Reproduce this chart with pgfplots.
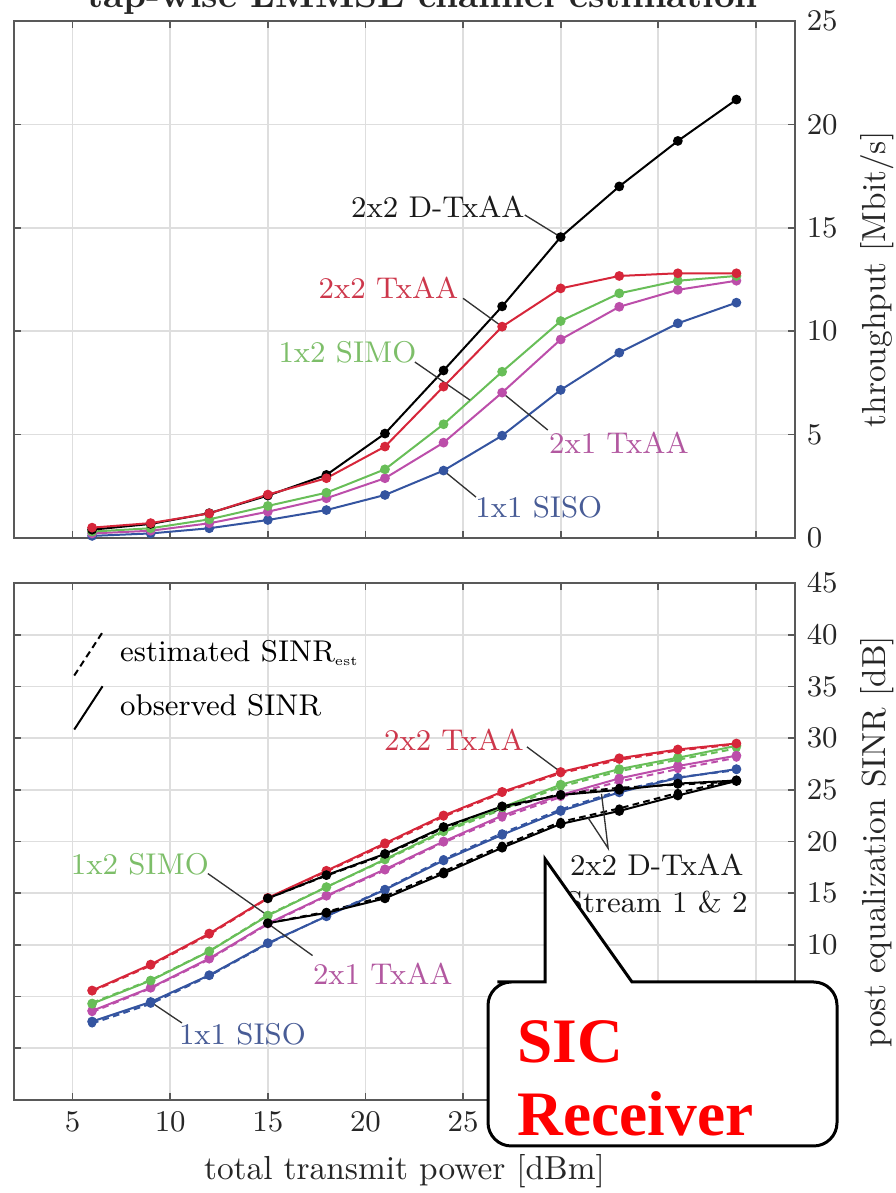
\documentclass[border=0pt]{standalone}
\usepackage{fontspec}
\usepackage{pgfplots}
\pgfplotsset{compat=1.18}
\newfontfamily\timesfont{Liberation Serif}
\definecolor{cred}{RGB}{214,38,58}
\definecolor{cgrn}{RGB}{104,190,88}
\definecolor{cmag}{RGB}{188,78,170}
\definecolor{cblu}{RGB}{52,84,160}
\definecolor{lred}{RGB}{205,55,75}
\definecolor{lgrn}{RGB}{125,190,105}
\definecolor{lmag}{RGB}{178,88,160}
\definecolor{lblu}{RGB}{72,92,150}
\newcommand{\annfont}{\fontsize{9}{11.2}\selectfont}
\tikzset{lead/.style={draw=black!80, line width=0.4pt}}
\pgfplotsset{
  commonax/.style={
    scale only axis, width=234.3pt, height=155.1pt,
    xmin=2, xmax=42, xtick={5,10,...,40},
    grid=major,
    major grid style={draw=black!13, line width=0.5pt},
    axis line style={draw=black!65, line width=0.8pt},
    tick style={draw=black!65, line width=0.5pt},
    major tick length=2pt,
    tick align=inside,
    yticklabel pos=right,
    ylabel near ticks,
    tick label style={font=\fontsize{9.5}{11}\selectfont, text=black!85},
    label style={font=\fontsize{10}{12}\selectfont, text=black!85},
  },
  obs/.style={line width=0.6pt, mark=*, mark size=1.15pt},
  est/.style={line width=0.6pt, dash pattern=on 2pt off 1.3pt, mark=*, mark size=0.9pt, mark options={solid}},
}
\begin{document}
\begin{tikzpicture}
\useasboundingbox (-4.2pt,-27.9pt) rectangle (264.3pt,330pt);

% title (partly cut off at the top)
\node[font=\bfseries\fontsize{10.8}{12}\selectfont, anchor=base, text=black!85] at (122.6pt,327.8pt) {tap-wise LMMSE channel estimation};

% ---------------- top panel: throughput ----------------
\begin{axis}[commonax, at={(0pt,168.6pt)}, anchor=south west,
  ymin=0, ymax=25, ytick={0,5,...,25}, xticklabels={},
  ylabel={throughput [Mbit/s]}]
\addplot[obs, cblu] coordinates {(6,0.10) (9,0.22) (12,0.47) (15,0.87) (18,1.35) (21,2.08) (24,3.26) (27,4.95) (30,7.16) (33,8.96) (36,10.38) (39,11.38)};
\addplot[obs, cmag] coordinates {(6,0.22) (9,0.35) (12,0.71) (15,1.27) (18,1.92) (21,2.89) (24,4.61) (27,7.03) (30,9.60) (33,11.18) (36,12.00) (39,12.44)};
\addplot[obs, cgrn] coordinates {(6,0.31) (9,0.47) (12,0.90) (15,1.55) (18,2.19) (21,3.32) (24,5.50) (27,8.04) (30,10.49) (33,11.83) (36,12.44) (39,12.67)};
\addplot[obs, black] coordinates {(6,0.40) (9,0.68) (12,1.20) (15,2.05) (18,3.05) (21,5.05) (24,8.10) (27,11.20) (30,14.55) (33,17.00) (36,19.20) (39,21.20)};
\addplot[obs, cred] coordinates {(6,0.50) (9,0.72) (12,1.19) (15,2.10) (18,2.89) (21,4.42) (24,7.32) (27,10.22) (30,12.07) (33,12.67) (36,12.80) (39,12.80)};

\node[font=\annfont, text=black!90] at (axis cs:23.71,16.02) {2x2 D-TxAA};
\draw[lead] (axis cs:28.16,15.62) -- (axis cs:30,14.55);
\node[font=\annfont, text=lred] at (axis cs:21.18,12.09) {2x2 TxAA};
\draw[lead] (axis cs:25.0,11.59) -- (axis cs:27,10.22);
\node[font=\annfont, text=lgrn] at (axis cs:19.08,8.99) {1x2 SIMO};
\draw[lead] (axis cs:22.53,8.51) -- (axis cs:25.35,6.67);
\node[font=\annfont, text=lmag] at (axis cs:32.98,4.59) {2x1 TxAA};
\draw[lead] (axis cs:29.34,5.22) -- (axis cs:27,7.03);
\node[font=\annfont, text=lblu] at (axis cs:28.88,1.5) {1x1 SISO};
\draw[lead] (axis cs:25.66,1.98) -- (axis cs:24,3.26);
\end{axis}

% ---------------- bottom panel: SINR ----------------
\begin{axis}[commonax, at={(0pt,0pt)}, anchor=south west,
  ymin=-5, ymax=45, ytick={0,5,...,45},
  xlabel={total transmit power [dBm]},
  ylabel={post equalization SINR [dB]},
  legend cell align=left,
  legend style={draw=none, fill=none, at={(axis description cs:0.075,0.908)}, anchor=north west,
    font=\annfont, row sep=2.6pt, inner sep=0pt,
    /tikz/every odd column/.append style={column sep=3pt}},
  legend image code/.code={\draw[#1] (0pt,-6.5pt) -- (8.5pt,6.5pt);}]
\addlegendimage{black, line width=0.6pt, dash pattern=on 2pt off 1.3pt}
\addlegendentry{estimated SINR\raisebox{-1pt}{\fontsize{4}{4}\selectfont est}}
\addlegendimage{black, line width=0.6pt}
\addlegendentry{observed SINR}

% estimated (dashed)
\addplot[est, cblu] coordinates {(6,2.40) (9,4.30) (12,7.00) (15,10.10) (18,12.80) (21,15.40) (24,18.30) (27,20.80) (30,23.10) (33,24.90) (36,26.20) (39,26.90)};
\addplot[est, cmag] coordinates {(6,3.50) (9,5.80) (12,8.60) (15,12.00) (18,14.70) (21,17.20) (24,19.90) (27,22.30) (30,24.30) (33,25.80) (36,27.00) (39,28.10)};
\addplot[est, cgrn] coordinates {(6,4.40) (9,6.60) (12,9.40) (15,12.90) (18,15.60) (21,18.20) (24,20.90) (27,23.10) (30,25.30) (33,26.80) (36,27.90) (39,29.00)};
\addplot[est, cred] coordinates {(6,5.50) (9,8.00) (12,11.00) (15,14.50) (18,17.10) (21,19.70) (24,22.40) (27,24.70) (30,26.60) (33,27.90) (36,28.80) (39,29.40)};
\addplot[est, black] coordinates {(15,14.50) (18,16.70) (21,18.70) (24,21.30) (27,23.20) (30,24.60) (33,25.20) (36,25.50) (39,25.80)};
\addplot[est, black] coordinates {(15,12.10) (18,13.20) (21,14.70) (24,17.10) (27,19.60) (30,21.90) (33,23.20) (36,24.70) (39,26.00)};
% observed (solid)
\addplot[obs, cblu] coordinates {(6,2.59) (9,4.48) (12,7.07) (15,10.17) (18,12.76) (21,15.34) (24,18.17) (27,20.65) (30,22.95) (33,24.75) (36,26.15) (39,27.00)};
\addplot[obs, cmag] coordinates {(6,3.62) (9,5.86) (12,8.69) (15,12.07) (18,14.76) (21,17.31) (24,20.00) (27,22.50) (30,24.50) (33,26.10) (36,27.30) (39,28.30)};
\addplot[obs, cgrn] coordinates {(6,4.31) (9,6.55) (12,9.38) (15,12.83) (18,15.59) (21,18.28) (24,21.03) (27,23.30) (30,25.50) (33,27.00) (36,28.10) (39,29.25)};
\addplot[obs, cred] coordinates {(6,5.59) (9,8.10) (12,11.10) (15,14.55) (18,17.17) (21,19.83) (24,22.52) (27,24.80) (30,26.72) (33,28.05) (36,28.90) (39,29.48)};
\addplot[obs, black] coordinates {(15,14.50) (18,16.75) (21,18.80) (24,21.40) (27,23.40) (30,24.50) (33,25.00) (36,25.60) (39,25.90)};
\addplot[obs, black] coordinates {(15,12.10) (18,13.10) (21,14.50) (24,16.90) (27,19.40) (30,21.70) (33,22.95) (36,24.45) (39,25.85)};

\node[font=\annfont, text=lred] at (axis cs:24.53,29.82) {2x2 TxAA};
\draw[lead] (axis cs:28.27,29.15) -- (axis cs:30,26.72);
\node[font=\annfont, text=lgrn] at (axis cs:8.45,17.76) {1x2 SIMO};
\draw[lead] (axis cs:11.93,16.9) -- (axis cs:15,12.83);
\node[font=\annfont, text=lmag] at (axis cs:20.89,7.23) {2x1 TxAA};
\draw[lead] (axis cs:17.29,8.97) -- (axis cs:15,12.07);
\node[font=\annfont, text=lblu] at (axis cs:13.7,1.38) {1x1 SISO};
\draw[lead] (axis cs:10.6,2.45) -- (axis cs:9,4.48);
\node[font=\annfont, text=black!90, align=center] at (axis cs:34.92,15.95) {2x2 D-TxAA\\Stream 1 \& 2};
\draw[lead] (axis cs:32.09,24.6) -- (axis cs:32.43,19.34) -- (axis cs:31.4,22.3);
\end{axis}

% ---------------- callout ----------------
\draw[fill=white, line width=0.9pt]
  (152pt,35.4pt) -- (159.3pt,35.4pt) -- (159.3pt,72.3pt) -- (185.4pt,35.4pt) -- (195pt,35.4pt)
  [rounded corners=7pt] -- (246.9pt,35.4pt) -- (246.9pt,-13.8pt) -- (142.2pt,-13.8pt) -- (142.2pt,35.4pt) -- cycle;
\node[anchor=base west, inner sep=0pt, text=red, font=\timesfont\bfseries\fontsize{19}{22}\selectfont] at (150.9pt,11.2pt) {SIC};
\node[anchor=base west, inner sep=0pt, text=red, font=\timesfont\bfseries\fontsize{19}{22}\selectfont] at (150.9pt,-10.7pt) {Receiver};
\end{tikzpicture}
\end{document}
